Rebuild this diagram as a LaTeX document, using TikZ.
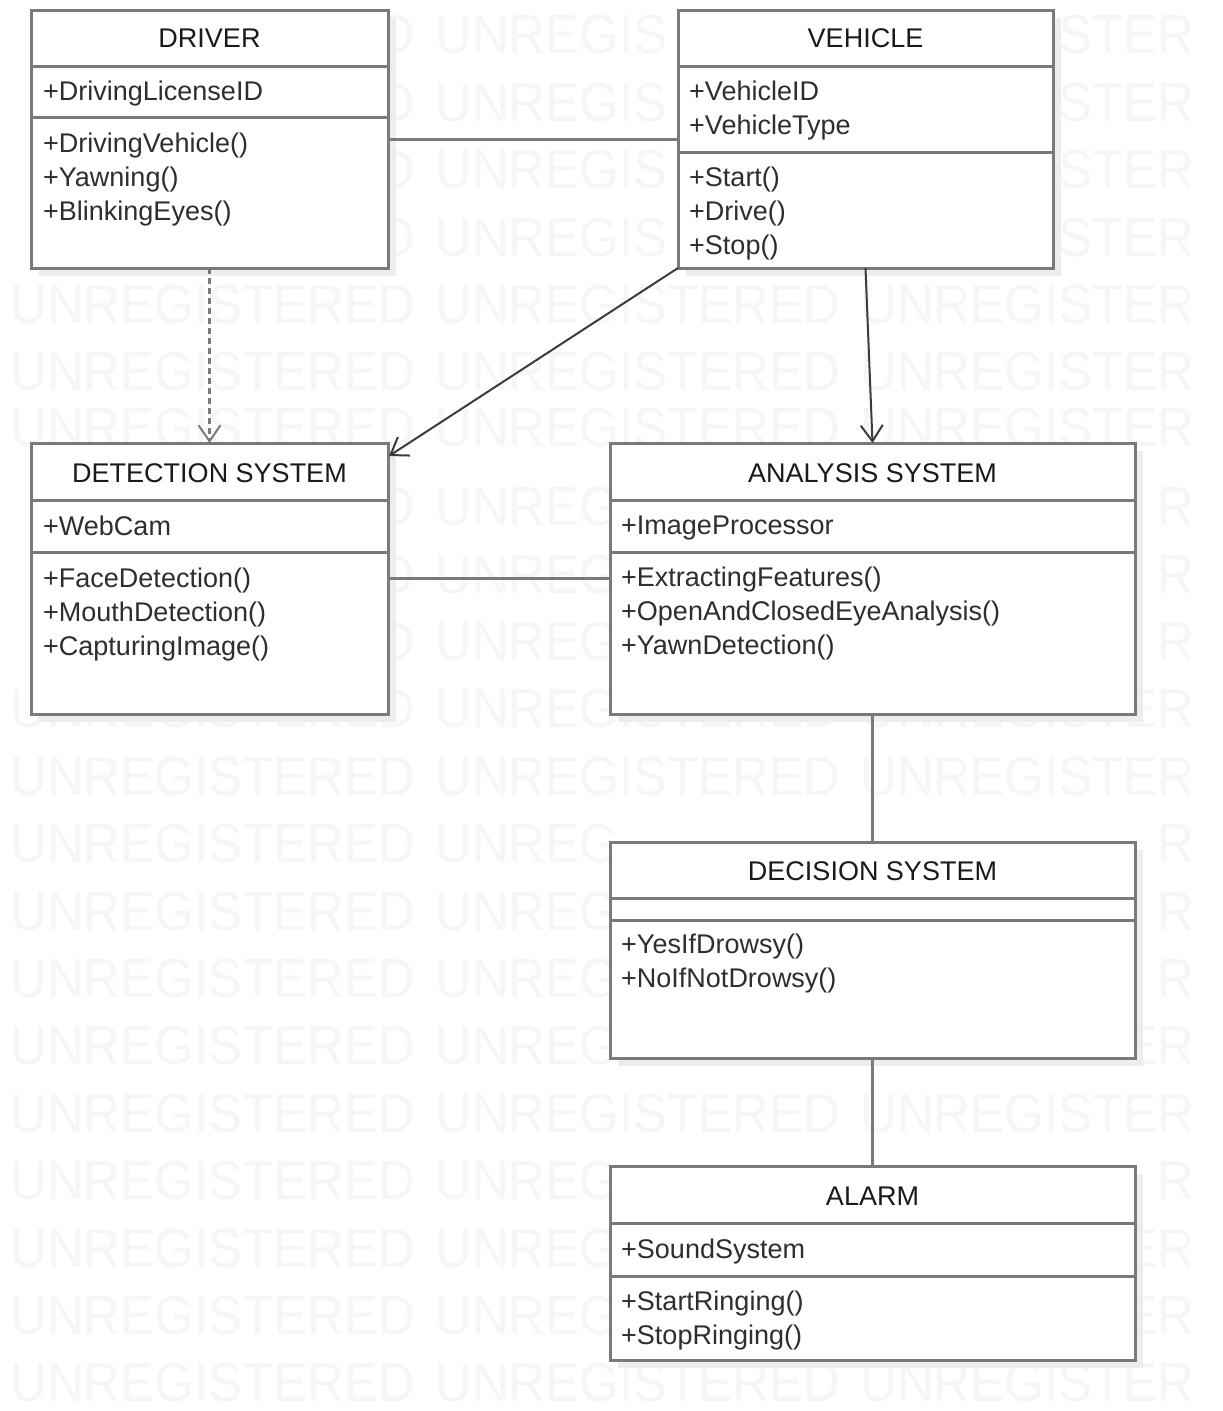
\documentclass[tikz,border=0pt]{standalone}
\usepackage{fontspec}
\setmainfont{Liberation Sans}
\usetikzlibrary{arrows.meta,calc,shadows}
\definecolor{boxgray}{HTML}{7A7A7A}
\definecolor{txtgray}{HTML}{2E2E2E}
\definecolor{ttlcol}{HTML}{1A1A1A}
\definecolor{wmgray}{HTML}{F6F6F6}
\definecolor{shadowgray}{HTML}{EDEDED}
\definecolor{linkdark}{HTML}{3C3C3C}
\begin{document}
\begin{tikzpicture}[x=1pt,y=-1pt,
  classbox/.style={rectangle, draw=boxgray, line width=3pt, fill=white, inner sep=0pt, outer sep=0pt,
    drop shadow={shadow xshift=8pt, shadow yshift=-8pt, fill=shadowgray, opacity=1}},
  divider/.style={draw=boxgray, line width=3pt},
  ttl/.style={anchor=base, inner sep=0pt, text=ttlcol, font=\fontsize{27}{30}\selectfont},
  item/.style={anchor=base west, inner sep=0pt, text=txtgray, font=\fontsize{27}{30}\selectfont},
  wm/.style={anchor=west, inner sep=0pt, text=wmgray, font=\fontsize{55}{55}\selectfont},
  assoc/.style={draw=boxgray, line width=3pt},
  depend/.style={draw=boxgray, line width=3pt, dash pattern=on 6pt off 4pt,
    -{Straight Barb[length=16pt,width=22pt,line width=2pt]}},
  navarrow/.style={draw=linkdark, line width=2pt, -{Straight Barb[length=16pt,width=22pt]}}
]
\useasboundingbox (0,0) rectangle (1223,1411);
\fill[white] (0,0) rectangle (1223,1411);

% watermark (only the parts that stay visible)
\foreach \r/\x/\t [count=\i] in {
  0/378.4/D, 0/435/UNREGIS, 0/1058.4/STER,
  1/378.4/D, 1/435/UNREGIS, 1/860/UNREGISTER,
  2/378.4/D, 2/435/UNREGIS, 2/860/UNREGISTER,
  3/378.4/D, 3/435/UNREGIS, 3/860/UNREGISTER,
  4/10/UNREGISTERED, 4/435/UNREGISTERED, 4/860/UNREGISTER,
  5/10/UNREGISTERED, 5/435/UNREGISTERED, 5/860/UNREGISTER,
  5.83/10/UNREGISTERED, 5.83/435/UNREGISTERED, 5.83/860/UNREGISTER,
  7/378.4/D, 7/435/UNREG, 7/1157.5/R,
  8/378.4/D, 8/435/UNREG, 8/1157.5/R,
  9/378.4/D, 9/435/UNREG, 9/1157.5/R,
  10/10/UNREGISTERED, 10/435/UNREGISTERED, 10/860/UNREGISTER,
  11/10/UNREGISTERED, 11/435/UNREGISTERED, 11/860/UNREGISTER,
  12/10/UNREGISTERED, 12/435/UNREG, 12/1157.5/R,
  13/10/UNREGISTERED, 13/435/UNREG, 13/1157.5/R,
  14/10/UNREGISTERED, 14/435/UNREG, 14/1157.5/R,
  15/10/UNREGISTERED, 15/435/UNREGISTERED, 15/860/UNREGISTER,
  16/10/UNREGISTERED, 16/435/UNREGISTERED, 16/860/UNREGISTER,
  17/10/UNREGISTERED, 17/435/UNREG, 17/1157.5/R,
  18/10/UNREGISTERED, 18/435/UNREG, 18/860/UNREGISTER,
  19/10/UNREGISTERED, 19/435/UNREG, 19/860/UNREGISTER,
  20/10/UNREGISTERED, 20/435/UNREGISTERED, 20/860/UNREGISTER}{
  \node[wm] (wm-\i) at (\x,{35+67.4*\r}) {\scalebox{0.927}[1]{\t}};
}

% ---------- DRIVER ----------
\node[classbox, minimum width=357pt, minimum height=258pt] (driver) at (209.5,139) {};
\draw[divider] (driver.west |- 0,66) -- (driver.east |- 0,66);
\draw[divider] (driver.west |- 0,117) -- (driver.east |- 0,117);
\node[ttl] (driver-t) at (209.5,47) {DRIVER};
\node[item] (driver-a1) at (43,100) {+DrivingLicenseID};
\node[item] (driver-o1) at (43,152) {+DrivingVehicle()};
\node[item] (driver-o2) at (43,186) {+Yawning()};
\node[item] (driver-o3) at (43,220) {+BlinkingEyes()};

% ---------- VEHICLE ----------
\node[classbox, minimum width=375pt, minimum height=258pt] (vehicle) at (865.5,139) {};
\draw[divider] (vehicle.west |- 0,66) -- (vehicle.east |- 0,66);
\draw[divider] (vehicle.west |- 0,152) -- (vehicle.east |- 0,152);
\node[ttl] (vehicle-t) at (865.5,47) {VEHICLE};
\node[item] (vehicle-a1) at (689,100) {+VehicleID};
\node[item] (vehicle-a2) at (689,134) {+VehicleType};
\node[item] (vehicle-o1) at (689,186) {+Start()};
\node[item] (vehicle-o2) at (689,220) {+Drive()};
\node[item] (vehicle-o3) at (689,254) {+Stop()};

% ---------- DETECTION SYSTEM ----------
\node[classbox, minimum width=357pt, minimum height=271pt] (detect) at (209.5,578.5) {};
\draw[divider] (detect.west |- 0,500) -- (detect.east |- 0,500);
\draw[divider] (detect.west |- 0,552) -- (detect.east |- 0,552);
\node[ttl] (detect-t) at (209.5,482) {DETECTION SYSTEM};
\node[item] (detect-a1) at (43,535) {+WebCam};
\node[item] (detect-o1) at (43,587) {+FaceDetection()};
\node[item] (detect-o2) at (43,621) {+MouthDetection()};
\node[item] (detect-o3) at (43,655) {+CapturingImage()};

% ---------- ANALYSIS SYSTEM ----------
\node[classbox, minimum width=525pt, minimum height=271pt] (analysis) at (872.5,578.5) {};
\draw[divider] (analysis.west |- 0,500) -- (analysis.east |- 0,500);
\draw[divider] (analysis.west |- 0,552) -- (analysis.east |- 0,552);
\node[ttl] (analysis-t) at (872.5,482) {ANALYSIS SYSTEM};
\node[item] (analysis-a1) at (621,534) {+ImageProcessor};
\node[item] (analysis-o1) at (621,586) {+ExtractingFeatures()};
\node[item] (analysis-o2) at (621,620) {+OpenAndClosedEyeAnalysis()};
\node[item] (analysis-o3) at (621,654) {+YawnDetection()};

% ---------- DECISION SYSTEM ----------
\node[classbox, minimum width=525pt, minimum height=216pt] (decision) at (872.5,950) {};
\draw[divider] (decision.west |- 0,898) -- (decision.east |- 0,898);
\draw[divider] (decision.west |- 0,920) -- (decision.east |- 0,920);
\node[ttl] (decision-t) at (872.5,880) {DECISION SYSTEM};
\node[item] (decision-o1) at (621,953) {+YesIfDrowsy()};
\node[item] (decision-o2) at (621,987) {+NoIfNotDrowsy()};

% ---------- ALARM ----------
\node[classbox, minimum width=525pt, minimum height=194pt] (alarm) at (872.5,1263) {};
\draw[divider] (alarm.west |- 0,1223) -- (alarm.east |- 0,1223);
\draw[divider] (alarm.west |- 0,1276) -- (alarm.east |- 0,1276);
\node[ttl] (alarm-t) at (872.5,1205) {ALARM};
\node[item] (alarm-a1) at (621,1258) {+SoundSystem};
\node[item] (alarm-o1) at (621,1310) {+StartRinging()};
\node[item] (alarm-o2) at (621,1344) {+StopRinging()};

% ---------- connectors ----------
\draw[assoc] (driver.east) -- (vehicle.west);
\draw[assoc] (detect.east) -- (analysis.west);
\draw[assoc] (analysis.south) -- (decision.north);
\draw[assoc] (decision.south) -- (alarm.north);
\draw[depend] (driver.south) -- (detect.north);
\draw[navarrow] (vehicle.south west) -- ($(detect.north east)+(1,13)$);
\draw[navarrow] (vehicle.south) -- (analysis.north);
\end{tikzpicture}
\end{document}
